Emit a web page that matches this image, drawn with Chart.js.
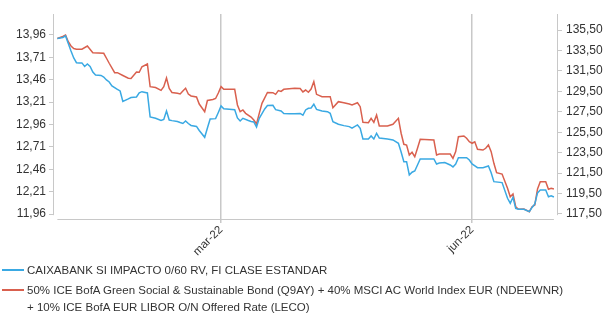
<!DOCTYPE html>
<html>
<head>
<meta charset="utf-8">
<script src="https://cdn.jsdelivr.net/npm/chart.js@4.4.1/dist/chart.umd.min.js"></script>
<style>
  body { margin: 0; background: #fff; }
  #wrap { position: relative; width: 608px; height: 315px; }
  #legend { position: absolute; left: 0; top: 0; width: 608px; height: 315px; pointer-events: none;
            font-family: "Liberation Sans", Arial, sans-serif; font-size: 11.5px; color: #333; }
  .row { position: absolute; left: 27px; white-space: nowrap; line-height: 14px; }
  .swatch { position: absolute; left: 2px; width: 22px; height: 2px; }
</style>
</head>
<body>
<div id="wrap">
  <canvas id="chart" width="608" height="315"></canvas>
  <div id="legend">
    <div class="swatch" style="top:269px;background:#3aa9e3"></div>
    <div class="row" style="top:263px">CAIXABANK SI IMPACTO 0/60 RV, FI CLASE ESTANDAR</div>
    <div class="swatch" style="top:289px;background:#d9604e"></div>
    <div class="row" style="top:283px">50% ICE BofA Green Social &amp; Sustainable Bond (Q9AY) + 40% MSCI AC World Index EUR (NDEEWNR)</div>
    <div class="row" style="top:300px">+ 10% ICE BofA EUR LIBOR O/N Offered Rate (LECO)</div>
  </div>
</div>
<script>
// fund (left axis)
const fundDates = ['2021-12-31','2022-01-02','2022-01-03','2022-01-05','2022-01-06','2022-01-07','2022-01-08','2022-01-09','2022-01-10','2022-01-11','2022-01-12','2022-01-13','2022-01-14','2022-01-16','2022-01-17','2022-01-18','2022-01-19','2022-01-20','2022-01-22','2022-01-23','2022-01-24','2022-01-26','2022-01-27','2022-01-29','2022-01-30','2022-01-31',
  '2022-02-02','2022-02-03','2022-02-05','2022-02-07','2022-02-08','2022-02-09','2022-02-10','2022-02-11','2022-02-13','2022-02-14','2022-02-15','2022-02-16','2022-02-17','2022-02-18','2022-02-20','2022-02-21','2022-02-23','2022-02-24','2022-02-25','2022-02-27','2022-02-28',
  '2022-03-01','2022-03-02','2022-03-04','2022-03-06','2022-03-07','2022-03-08','2022-03-09','2022-03-11','2022-03-12','2022-03-13','2022-03-14','2022-03-15','2022-03-17','2022-03-18','2022-03-20','2022-03-21','2022-03-23','2022-03-24','2022-03-26','2022-03-28','2022-03-30','2022-03-31',
  '2022-04-01','2022-04-02','2022-04-03','2022-04-04','2022-04-05','2022-04-07','2022-04-09','2022-04-10','2022-04-11','2022-04-13','2022-04-15','2022-04-17','2022-04-18','2022-04-20','2022-04-21','2022-04-22','2022-04-24','2022-04-25','2022-04-26','2022-04-27','2022-04-28',
  '2022-05-01','2022-05-03','2022-05-05','2022-05-06','2022-05-07','2022-05-08','2022-05-09','2022-05-10','2022-05-11','2022-05-12','2022-05-13','2022-05-17','2022-05-18','2022-05-19','2022-05-20','2022-05-22','2022-05-24','2022-05-25','2022-05-26','2022-05-27','2022-05-30','2022-05-31',
  '2022-06-01','2022-06-03','2022-06-05','2022-06-07','2022-06-08','2022-06-09','2022-06-12','2022-06-14','2022-06-15','2022-06-16','2022-06-17','2022-06-18','2022-06-20','2022-06-22','2022-06-23','2022-06-24','2022-06-25','2022-06-26','2022-06-28','2022-06-29','2022-06-30','2022-07-01'];
const fundValues = [13.921,13.932,13.949,13.781,13.703,13.650,13.648,13.648,13.608,13.636,13.608,13.547,13.514,13.508,13.491,13.458,13.435,13.391,13.352,13.335,13.218,13.246,13.262,13.268,13.313,13.327,
  13.313,13.045,13.030,13.006,13.017,13.112,13.011,13.004,12.995,12.983,12.972,13.000,12.972,12.950,12.939,12.894,12.818,12.922,13.022,13.026,13.095,
  13.168,13.137,13.131,13.126,13.034,13.000,13.030,13.006,12.995,12.989,12.933,13.030,13.134,13.173,13.175,13.126,13.112,13.084,13.081,13.081,13.084,13.064,
  13.123,13.142,13.145,13.187,13.129,13.112,13.104,13.086,12.992,12.963,12.948,12.937,12.919,12.956,12.919,12.799,12.799,12.833,12.799,12.863,12.810,
  12.799,12.788,12.751,12.654,12.546,12.546,12.398,12.428,12.442,12.509,12.576,12.576,12.576,12.520,12.531,12.537,12.509,12.487,12.520,12.591,12.591,12.565,
  12.520,12.479,12.479,12.498,12.423,12.323,12.312,12.137,12.082,12.149,12.024,12.015,12.015,11.988,12.035,12.074,12.197,12.230,12.230,12.155,12.166,12.152];

// benchmark (right axis)
const benchDates = ['2021-12-31','2022-01-02','2022-01-03','2022-01-04','2022-01-05','2022-01-06','2022-01-07','2022-01-09','2022-01-11','2022-01-13','2022-01-17','2022-01-18','2022-01-19','2022-01-21','2022-01-22','2022-01-24','2022-01-26','2022-01-27','2022-01-29','2022-01-30','2022-01-31',
  '2022-02-02','2022-02-03','2022-02-05','2022-02-07','2022-02-08','2022-02-09','2022-02-10','2022-02-11','2022-02-13','2022-02-14','2022-02-15','2022-02-16','2022-02-17','2022-02-18','2022-02-20','2022-02-21','2022-02-23','2022-02-24','2022-02-26','2022-02-27','2022-02-28',
  '2022-03-01','2022-03-02','2022-03-06','2022-03-07','2022-03-08','2022-03-09','2022-03-10','2022-03-12','2022-03-13','2022-03-14','2022-03-15','2022-03-16','2022-03-18','2022-03-20','2022-03-21','2022-03-22','2022-03-23','2022-03-24','2022-03-28','2022-03-30','2022-03-31',
  '2022-04-01','2022-04-02','2022-04-03','2022-04-04','2022-04-05','2022-04-07','2022-04-10','2022-04-11','2022-04-13','2022-04-15','2022-04-17','2022-04-18','2022-04-20','2022-04-21','2022-04-22','2022-04-24','2022-04-25','2022-04-26','2022-04-27','2022-04-28',
  '2022-05-01','2022-05-03','2022-05-05','2022-05-06','2022-05-07','2022-05-08','2022-05-09','2022-05-10','2022-05-11','2022-05-12','2022-05-13','2022-05-18','2022-05-19','2022-05-20','2022-05-24','2022-05-25','2022-05-26','2022-05-27','2022-05-29','2022-05-30','2022-05-31',
  '2022-06-01','2022-06-02','2022-06-03','2022-06-05','2022-06-06','2022-06-07','2022-06-08','2022-06-09','2022-06-10','2022-06-12','2022-06-14','2022-06-15','2022-06-16','2022-06-17','2022-06-18','2022-06-20','2022-06-22','2022-06-23','2022-06-24','2022-06-25','2022-06-26','2022-06-28','2022-06-29','2022-06-30','2022-07-01'];
const benchValues = [134.67,134.87,135.02,134.36,133.94,133.69,133.62,133.62,133.94,133.28,133.22,132.74,132.25,131.33,131.33,131.05,130.78,130.76,131.39,131.37,131.91,
  132.18,129.96,129.88,129.60,129.96,130.81,129.78,129.39,129.31,129.24,129.54,129.80,129.24,129.05,128.95,128.26,127.51,128.61,128.70,128.80,129.34,
  129.96,129.70,129.70,128.17,127.51,127.68,127.35,126.99,126.70,126.31,127.35,128.33,129.39,129.37,129.21,129.57,129.49,129.70,129.80,129.78,129.44,
  129.63,129.41,129.73,130.45,129.21,128.98,128.98,127.90,128.49,128.39,128.26,128.17,128.39,128.00,126.47,126.43,126.86,126.47,127.19,126.11,
  126.11,126.28,126.86,125.40,124.32,124.25,123.27,123.54,123.11,123.93,124.81,124.74,123.27,123.37,123.37,122.95,123.60,125.06,125.13,124.91,124.57,
  124.42,124.57,123.83,123.76,123.93,124.25,123.60,122.46,121.54,121.41,120.02,119.19,119.46,118.21,117.96,117.99,117.73,118.21,118.38,119.95,120.66,120.66,119.92,120.02,119.95];

const leftTicks = [11.96, 12.21, 12.46, 12.71, 12.96, 13.21, 13.46, 13.71, 13.96];
const rightTicks = [117.5, 119.5, 121.5, 123.5, 125.5, 127.5, 129.5, 131.5, 133.5, 135.5];
const xTickDates = ['2022-03-01', '2022-06-01'];
const xTickLabels = ['mar-22', 'jun-22'];

const BLUE = '#3aa9e3';
const RED = '#d9604e';
const GRID = '#c8c8c8';

// day offset from 1 Jan 2022
function toDay(s) {
  const p = s.split('-').map(Number);
  return (Date.UTC(p[0], p[1] - 1, p[2]) - Date.UTC(2022, 0, 1)) / 86400000;
}
const comma = v => v.toFixed(2).replace('.', ',');

const axisLines = {
  id: 'axisLines',
  beforeDatasetsDraw(chart) {
    const { ctx, chartArea, scales } = chart;
    const bottom = scales.y.getPixelForValue(leftTicks[0]) + 1;
    const x0 = scales.x.getPixelForValue(toDay(fundDates[0]));
    const x1 = scales.x.getPixelForValue(toDay(fundDates[fundDates.length - 1]));
    ctx.save();
    ctx.strokeStyle = GRID;
    ctx.lineWidth = 1;
    ctx.beginPath();
    ctx.moveTo(chartArea.left + 0.5, chartArea.top);
    ctx.lineTo(chartArea.left + 0.5, bottom);
    ctx.moveTo(chartArea.right - 0.5, chartArea.top);
    ctx.lineTo(chartArea.right - 0.5, bottom);
    ctx.moveTo(x0, chartArea.bottom + 0.5);
    ctx.lineTo(x1, chartArea.bottom + 0.5);
    ctx.stroke();
    ctx.restore();
  }
};

Chart.defaults.font.family = '"Liberation Sans", Arial, sans-serif';
Chart.defaults.color = '#333';

new Chart(document.getElementById('chart'), {
  type: 'line',
  data: {
    datasets: [
      {
        label: 'CAIXABANK SI IMPACTO 0/60 RV, FI CLASE ESTANDAR',
        data: fundDates.map((d, i) => ({ x: toDay(d), y: fundValues[i] })),
        borderColor: BLUE,
        borderWidth: 1.5,
        pointRadius: 0,
        yAxisID: 'y'
      },
      {
        label: '50% ICE BofA Green Social & Sustainable Bond (Q9AY) + 40% MSCI AC World Index EUR (NDEEWNR) + 10% ICE BofA EUR LIBOR O/N Offered Rate (LECO)',
        data: benchDates.map((d, i) => ({ x: toDay(d), y: benchValues[i] })),
        borderColor: RED,
        borderWidth: 1.5,
        pointRadius: 0,
        yAxisID: 'y1'
      }
    ]
  },
  options: {
    responsive: false,
    animation: false,
    devicePixelRatio: 1,
    layout: { padding: { top: 14, left: 0, right: 0, bottom: 0 } },
    plugins: { legend: { display: false }, tooltip: { enabled: false } },
    scales: {
      x: {
        type: 'linear',
        min: -2.6,
        max: 182.5,
        afterBuildTicks: s => { s.ticks = xTickDates.map(d => ({ value: toDay(d) })); },
        afterFit: s => { s.height = 96; },
        ticks: {
          minRotation: 45, maxRotation: 45, autoSkip: false, padding: 0,
          font: { size: 11.5 },
          callback: (v, i) => xTickLabels[i]
        },
        grid: { color: GRID, lineWidth: 1.5, tickLength: 4 },
        border: { display: false }
      },
      y: {
        position: 'left',
        min: 11.906,
        max: 14.194,
        afterBuildTicks: s => { s.ticks = leftTicks.map(v => ({ value: v })); },
        afterFit: s => { s.width = 53; },
        ticks: { padding: 3, font: { size: 12 }, callback: v => comma(v) },
        grid: { drawOnChartArea: false, color: GRID, tickLength: 4 },
        border: { display: false }
      },
      y1: {
        position: 'right',
        min: 117.01,
        max: 137.07,
        afterBuildTicks: s => { s.ticks = rightTicks.map(v => ({ value: v })); },
        afterFit: s => { s.width = 50; },
        ticks: { padding: 4, font: { size: 12 }, callback: v => comma(v) },
        grid: { drawOnChartArea: false, color: GRID, tickLength: 4 },
        border: { display: false }
      }
    }
  },
  plugins: [axisLines]
});
</script>
</body>
</html>
